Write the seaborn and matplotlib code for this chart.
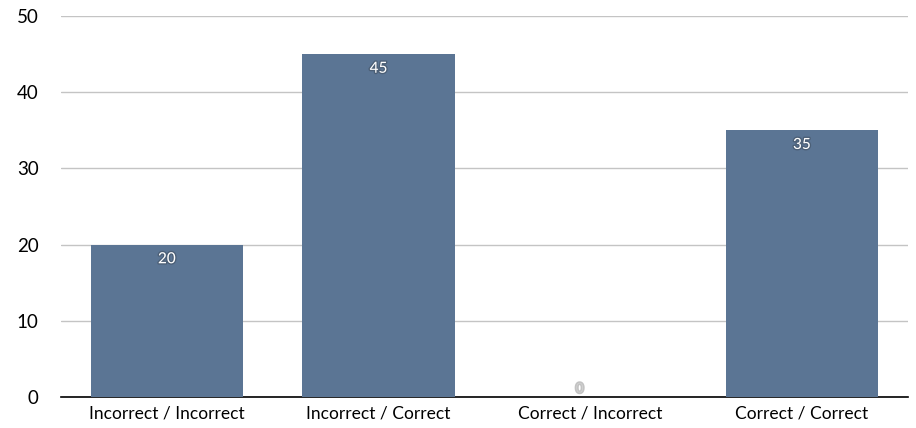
import pandas as pd
import seaborn as sns
import matplotlib.pyplot as plt
import matplotlib.patheffects as pe

# Data
categories = ['Incorrect / Incorrect', 'Incorrect / Correct', 'Correct / Incorrect', 'Correct / Correct']
counts = [20, 45, 0, 35]

df = pd.DataFrame({'category': categories, 'count': counts})

sns.set_style('white')
plt.rcParams['font.family'] = ['Lato', 'DejaVu Sans']

fig = plt.figure(figsize=(9.16, 4.28), dpi=100)
ax = fig.add_axes([0.0666, 0.0724, 0.9244, 0.8902])

sns.barplot(x='category', y='count', data=df, color='#5b7594', saturation=1,
            width=0.72, linewidth=0, ax=ax, zorder=3)

ax.set_ylim(0, 50)
ax.set_yticks([0, 10, 20, 30, 40, 50])
ax.yaxis.grid(True, color='#c4c4c4', linewidth=1, zorder=0)
ax.set_xlabel('')
ax.set_ylabel('')
for side in ['left', 'right', 'top']:
    ax.spines[side].set_visible(False)
ax.spines['bottom'].set_color('black')
ax.spines['bottom'].set_linewidth(1.2)
ax.tick_params(axis='both', length=0, labelsize=12.5, colors='black')
ax.tick_params(axis='y', labelsize=13.5, pad=16)
ax.tick_params(axis='x', pad=6)

shadow = [pe.withStroke(linewidth=2, foreground='#3d4a5a', alpha=0.5)]
grey_shadow = [pe.withStroke(linewidth=2, foreground='#888888', alpha=0.5)]

# Value labels inside bars
for p, v in zip(ax.patches, counts):
    x = p.get_x() + p.get_width() / 2
    if v > 0:
        ax.text(x, v - 1.0, str(v), ha='center', va='top', color='white', fontsize=11,
                zorder=5, path_effects=shadow)
    else:
        ax.text(x - 0.05, 0.3, str(v), ha='center', va='bottom', color='#d0d0d0', fontsize=10,
                zorder=5, clip_on=False, path_effects=grey_shadow)

fig.savefig('out.png', dpi=100)
